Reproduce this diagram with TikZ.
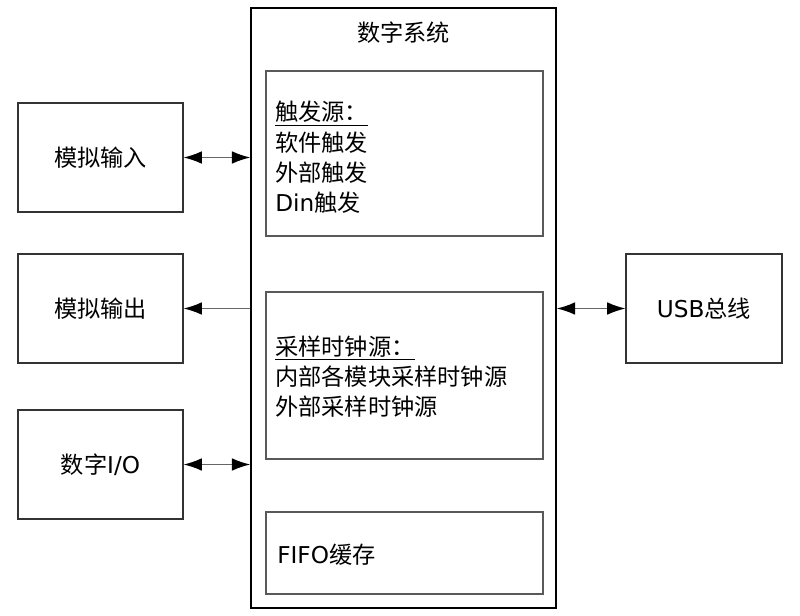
\documentclass[tikz,border=0pt]{standalone}
\usepackage{fontspec}
\setmainfont{DejaVu Sans}
\newfontfamily\cjk{Noto Sans CJK SC}
\usetikzlibrary{arrows.meta,positioning}

\begin{document}
\begin{tikzpicture}[x=0.025cm,y=-0.025cm,font=\fontsize{16.5}{21.5}\selectfont,
  outbox/.style={draw=black!80,line width=0.8pt,minimum width=4.125cm,minimum height=2.725cm,inner sep=0pt},
  inbox/.style={draw=black!65,line width=0.8pt,minimum width=6.925cm,inner sep=0pt},
  link/.style={draw=black!60,line width=0.9pt,>={Latex[length=13pt,width=9pt,color=black]}}]
\useasboundingbox (0,0) rectangle (800,616);
\node[draw,line width=1.1pt,minimum width=7.625cm,minimum height=15cm] (sys) at (403.5,308) {};
\node (systitle) at (403.5,33) {\cjk 数字系统};
\node[inbox,minimum height=4.125cm] (trig) at (404.5,153.5) {};
\node[inbox,minimum height=4.175cm] (clk) at (404.5,375.5) {};
\node[inbox,minimum height=2.05cm] (fifo) at (404.5,553) {};
\node[anchor=west,align=left,inner sep=0pt] (trigtxt) at (275,157.5)
  {\underline{\cjk 触发源：}\\{\cjk 软件触发}\\{\cjk 外部触发}\\Din{\cjk 触发}};
\node[anchor=west,align=left,inner sep=0pt] (clktxt) at (275,376.5)
  {\underline{\cjk 采样时钟源：}\\{\cjk 内部各模块采样时钟源}\\{\cjk 外部采样时钟源}};
\node[anchor=west,inner sep=0pt] (fifotxt) at (277,555) {FIFO{\cjk 缓存}};
\node[outbox] (ain) at (100.5,157.5) {\cjk 模拟输入};
\node[outbox] (aout) at (100.5,308.5) {\cjk 模拟输出};
\node[outbox] (dio) at (100.5,464.5) {{\cjk 数字}I/O};
\node[outbox,minimum width=3.9cm] (usb) at (704,308.5) {USB{\cjk 总线}};
\draw[link,<->] (ain) -- (ain -| sys.west);
\draw[link,->] (aout -| sys.west) -- (aout);
\draw[link,<->] (dio) -- (dio -| sys.west);
\draw[link,<->] (sys.east |- usb) -- (usb);
\end{tikzpicture}
\end{document}
